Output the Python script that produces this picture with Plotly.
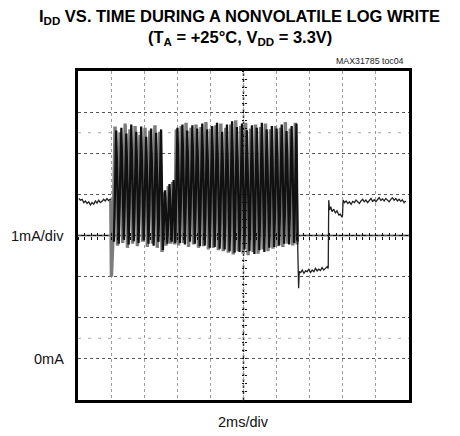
import plotly.graph_objects as go

# ---------------- data (time in ms, current in mA) ----------------
pre_t = [0.05, 0.15, 0.25, 0.35, 0.45, 0.55, 0.65, 0.75, 0.85, 0.95, 1.05, 1.15,
         1.25, 1.35, 1.45, 1.55, 1.65, 1.75, 1.85, 1.95, 1.98]
pre_i = [3.90, 3.86, 3.88, 3.80, 3.84, 3.78, 3.82, 3.74, 3.80, 3.76, 3.84, 3.79,
         3.86, 3.80, 3.83, 3.88, 3.84, 3.90, 3.85, 3.88, 3.86]

gray_t = [1.98, 2.02, 2.12,
          2.24, 2.39, 2.54, 2.70, 2.85, 2.99, 3.14, 3.30, 3.45, 3.59, 3.74, 3.90,
          4.05, 4.19, 4.34, 4.50, 4.65, 4.79, 4.94, 5.08,
          5.18, 5.32, 5.46, 5.60, 5.72, 5.84,
          5.94, 6.08, 6.23, 6.38, 6.53, 6.68, 6.83, 6.98, 7.13, 7.28,
          7.43, 7.58, 7.73, 7.88, 8.03, 8.18, 8.33, 8.48, 8.63, 8.78,
          8.93, 9.08, 9.23, 9.38, 9.53, 9.68, 9.83, 9.98, 10.13, 10.28,
          10.43, 10.58, 10.73, 10.88, 11.03, 11.18, 11.33, 11.48, 11.63, 11.78,
          11.93, 12.08, 12.23, 12.38, 12.53, 12.68, 12.83, 12.98, 13.13, 13.24]
gray_i = [3.86, 2.00, 3.00,
          5.65, 2.75, 5.50, 2.82, 5.72, 2.70, 5.58, 2.80, 5.66, 2.74, 5.45, 2.85,
          5.62, 2.72, 5.55, 2.80, 5.68, 2.70, 5.52, 2.60,
          4.05, 2.75, 4.20, 2.80, 4.30, 2.78,
          5.58, 2.76, 5.66, 2.82, 5.74, 2.72, 5.62, 2.78, 5.70, 2.70,
          5.64, 2.74, 5.76, 2.66, 5.60, 2.70, 5.68, 2.64, 5.72, 2.62,
          5.62, 2.58, 5.70, 2.54, 5.80, 2.62, 5.66, 2.56, 5.74, 2.52,
          5.60, 2.60, 5.70, 2.56, 5.64, 2.66, 5.72, 2.62, 5.58, 2.68,
          5.66, 2.74, 5.62, 2.72, 5.76, 2.80, 5.60, 2.76, 5.74, 2.78]

black_t = [2.17, 2.31, 2.46, 2.62, 2.77, 2.92, 3.06, 3.22, 3.37, 3.52, 3.66,
           3.82, 3.97, 4.12, 4.26, 4.42, 4.57, 4.72, 4.86, 5.02, 5.13,
           5.26, 5.40, 5.53, 5.66, 5.78, 5.88,
           6.01, 6.16, 6.31, 6.46, 6.60, 6.76, 6.91, 7.06, 7.20, 7.36,
           7.51, 7.66, 7.80, 7.96, 8.11, 8.26, 8.40, 8.56, 8.71, 8.86,
           9.00, 9.16, 9.31, 9.46, 9.60, 9.76, 9.91, 10.06, 10.20, 10.36,
           10.51, 10.66, 10.80, 10.96, 11.11, 11.26, 11.40, 11.56, 11.71, 11.86,
           12.00, 12.16, 12.31, 12.46, 12.60, 12.76, 12.91, 13.06, 13.20, 13.27]
black_i = [2.85, 5.55, 2.80, 5.62, 2.90, 5.48, 2.78, 5.70, 2.86, 5.52, 2.82,
           5.65, 2.88, 5.40, 2.80, 5.60, 2.75, 5.50, 2.84, 5.58, 2.65,
           4.10, 2.80, 4.25, 2.85, 4.35, 2.82,
           5.62, 2.82, 5.70, 2.78, 5.55, 2.85, 5.68, 2.80, 5.60, 2.74,
           5.72, 2.76, 5.58, 2.70, 5.66, 2.72, 5.74, 2.68, 5.52, 2.66,
           5.70, 2.62, 5.78, 2.58, 5.64, 2.60, 5.72, 2.66, 5.56, 2.62,
           5.68, 2.55, 5.62, 2.64, 5.74, 2.60, 5.58, 2.70, 5.66, 2.72,
           5.60, 2.76, 5.70, 2.80, 5.54, 2.78, 5.66, 2.82, 5.72, 2.85]

post_t = [13.27, 13.33, 13.37, 13.45, 13.55, 13.65, 13.75, 13.85, 13.95, 14.05,
          14.15, 14.25, 14.35, 14.45, 14.55, 14.65, 14.75, 14.85, 14.95, 15.05,
          15.12, 15.15, 15.20, 15.27, 15.35, 15.45, 15.55, 15.65, 15.75, 15.85,
          15.93, 15.98, 16.02,
          16.1, 16.2, 16.3, 16.4, 16.5, 16.6, 16.7, 16.8, 16.9, 17.0,
          17.1, 17.2, 17.3, 17.4, 17.5, 17.6, 17.7, 17.8, 17.9, 18.0,
          18.1, 18.2, 18.3, 18.4, 18.5, 18.6, 18.7, 18.8, 18.9, 19.0,
          19.1, 19.2, 19.3, 19.4, 19.5, 19.6, 19.7, 19.8]
post_i = [2.85, 1.72, 2.12, 2.10, 2.16, 2.08, 2.14, 2.12, 2.18, 2.10,
          2.16, 2.12, 2.20, 2.14, 2.18, 2.15, 2.22, 2.16, 2.20, 2.24,
          2.20, 3.86, 3.62, 3.70, 3.58, 3.64, 3.55, 3.60, 3.50, 3.52,
          3.46, 3.47, 3.86,
          3.80, 3.84, 3.78, 3.82, 3.76, 3.83, 3.80, 3.86, 3.81, 3.78,
          3.84, 3.88, 3.82, 3.86, 3.80, 3.84, 3.90, 3.83, 3.87, 3.82,
          3.88, 3.92, 3.85, 3.89, 3.84, 3.90, 3.86, 3.82, 3.88, 3.92,
          3.86, 3.90, 3.84, 3.88, 3.83, 3.87, 3.80, 3.84]

x_range = [0, 20]      # 10 divisions of 2 ms
y_range = [-1, 7]      # 8 divisions of 1 mA, 0 mA at y = 0
center_t = 10
center_i = 3

title1 = "<b>I<sub>DD</sub> VS. TIME DURING A NONVOLATILE LOG WRITE</b>"
title2 = "<b>(T<sub>A</sub> = +25°C, V<sub>DD</sub> = 3.3V)</b>"
tag = "MAX31785 toc04"
ylab_div = "1mA/div"
ylab_zero = "0mA"
xlab_div = "2ms/div"

FONT = "Liberation Sans, Arial, Helvetica, sans-serif"

# ---------------- figure ----------------
fig = go.Figure()
fig.add_trace(go.Scatter(x=gray_t, y=gray_i, mode="lines",
                         line=dict(color="#7c7c7c", width=3.4), hoverinfo="skip"))
fig.add_trace(go.Scatter(x=black_t, y=black_i, mode="lines",
                         line=dict(color="#111111", width=2.3), hoverinfo="skip"))
fig.add_trace(go.Scatter(x=pre_t, y=pre_i, mode="lines",
                         line=dict(color="#222222", width=1.3), hoverinfo="skip"))
fig.add_trace(go.Scatter(x=post_t, y=post_i, mode="lines",
                         line=dict(color="#222222", width=1.3), hoverinfo="skip"))
# empty traces so the centre tick axes are drawn
fig.add_trace(go.Scatter(x=[], y=[], xaxis="x2", yaxis="y", showlegend=False))
fig.add_trace(go.Scatter(x=[], y=[], xaxis="x3", yaxis="y", showlegend=False))
fig.add_trace(go.Scatter(x=[], y=[], xaxis="x", yaxis="y2", showlegend=False))
fig.add_trace(go.Scatter(x=[], y=[], xaxis="x", yaxis="y3", showlegend=False))

tick_common = dict(showgrid=False, zeroline=False, showline=False,
                   showticklabels=False, tickcolor="#111", tickwidth=1)

fig.update_layout(
    width=460, height=436,
    margin=dict(l=78, r=51, t=71, b=36),
    paper_bgcolor="white", plot_bgcolor="white",
    showlegend=False,
    xaxis=dict(range=x_range, dtick=2, tick0=0, showgrid=True,
               gridcolor="#9c9c9c", griddash="dot", gridwidth=1,
               showline=True, linecolor="black", linewidth=3, mirror=True,
               ticks="", showticklabels=False, zeroline=False, fixedrange=True),
    yaxis=dict(range=y_range, dtick=1, tick0=0, showgrid=True,
               gridcolor="#555555", griddash="dot", gridwidth=1,
               showline=True, linecolor="black", linewidth=3, mirror=True,
               ticks="", showticklabels=False, zeroline=False, fixedrange=True),
    xaxis2=dict(overlaying="x", anchor="free", position=0.5, range=x_range,
                dtick=0.4, tick0=0, ticks="outside", ticklen=3, **tick_common),
    xaxis3=dict(overlaying="x", anchor="free", position=0.5, range=x_range,
                dtick=0.4, tick0=0, ticks="inside", ticklen=3, **tick_common),
    yaxis2=dict(overlaying="y", anchor="free", position=0.5, range=y_range,
                dtick=0.2, tick0=0, ticks="outside", ticklen=2, **tick_common),
    yaxis3=dict(overlaying="y", anchor="free", position=0.5, range=y_range,
                dtick=0.2, tick0=0, ticks="inside", ticklen=2, **tick_common),
    shapes=[
        dict(type="line", xref="paper", yref="y", x0=0, x1=1, y0=center_i, y1=center_i,
             line=dict(color="#111", width=1.5), layer="below"),
        dict(type="line", xref="x", yref="paper", x0=center_t, x1=center_t, y0=0, y1=1,
             line=dict(color="#333", width=1.5, dash="dot"), layer="below"),
        dict(type="line", xref="paper", yref="y", x0=0, x1=1, y0=5.5, y1=5.5,
             line=dict(color="#aaaaaa", width=1, dash="3px,7px"), layer="below"),
        dict(type="line", xref="paper", yref="y", x0=0, x1=1, y0=0.5, y1=0.5,
             line=dict(color="#aaaaaa", width=1, dash="3px,7px"), layer="below"),
    ],
    annotations=[
        dict(text=title1, xref="paper", yref="paper", x=0.488, y=1, yshift=54,
             xanchor="center", yanchor="middle", showarrow=False,
             font=dict(family=FONT, size=16.5, color="black")),
        dict(text=title2, xref="paper", yref="paper", x=0.488, y=1, yshift=33,
             xanchor="center", yanchor="middle", showarrow=False,
             font=dict(family=FONT, size=16.5, color="black")),
        dict(text=tag, xref="paper", yref="paper", x=1, xshift=-3, y=1, yshift=10,
             xanchor="right", yanchor="middle", showarrow=False,
             font=dict(family=FONT, size=8.8, color="#222")),
        dict(text=ylab_div, xref="paper", yref="y", x=0, xshift=-12, y=center_i,
             xanchor="right", yanchor="middle", showarrow=False,
             font=dict(family=FONT, size=14.5, color="#111")),
        dict(text=ylab_zero, xref="paper", yref="y", x=0, xshift=-12, y=0,
             xanchor="right", yanchor="middle", showarrow=False,
             font=dict(family=FONT, size=14.5, color="#111")),
        dict(text=xlab_div, xref="paper", yref="paper", x=0.5, y=0, yshift=-22,
             xanchor="center", yanchor="middle", showarrow=False,
             font=dict(family=FONT, size=14.5, color="#111")),
    ],
)

fig.write_html("out.html",
               config={"displayModeBar": False, "staticPlot": True},
               post_script="document.body.style.margin='0';"
                           "document.documentElement.style.overflow='hidden';")
